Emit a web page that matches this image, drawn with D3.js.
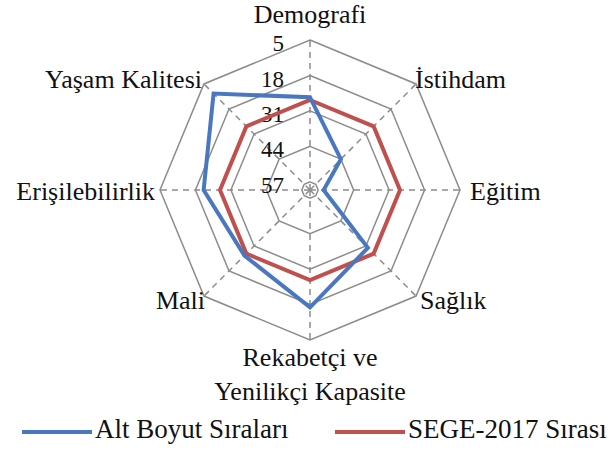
<!DOCTYPE html>
<html>
<head>
<meta charset="utf-8">
<script src="https://cdn.jsdelivr.net/npm/d3@7"></script>
<style>
  body { margin: 0; background: #ffffff; }
  svg text { font-family: "Liberation Serif", "Times New Roman", serif; fill: #111111; }
</style>
</head>
<body>
<div id="chart"></div>
<script>
// Axis names, clockwise from the top
const categories = ["Demografi", "İstihdam", "Eğitim", "Sağlık",
    "Rekabetçi ve\nYenilikçi Kapasite", "Mali", "Erişilebilirlik", "Yaşam Kalitesi"];
const altBoyut = [26, 44, 55, 30, 17, 26, 21, 10];   // Alt Boyut Sıraları
const sege2017 = [27, 27, 27, 27, 27, 27, 27, 27];   // SEGE-2017 Sırası
const tickValues = [5, 18, 31, 44, 57];
const seriesNames = ["Alt Boyut Sıraları", "SEGE-2017 Sırası"];

const width = 610;
const height = 450;
const cx = 310, cy = 190, R = 150;

const svg = d3.select("#chart")
    .append("svg")
    .attr("width", width)
    .attr("height", height);

const g = svg.append("g").attr("transform", `translate(${cx},${cy})`);

// rank 5 sits on the outer ring, the centre is about 60
const r = d3.scaleLinear().domain([5, 60]).range([R, 0]);
const angle = d3.scalePoint().domain(d3.range(categories.length + 1)).range([0, 2 * Math.PI]);
const pt = (i, v) => {
    const a = angle(i) - Math.PI / 2;
    return [Math.cos(a) * r(v), Math.sin(a) * r(v)];
};

// rings
tickValues.forEach(t => {
    g.append("path")
        .attr("d", d3.line()(categories.map((c, i) => pt(i, t))) + "Z")
        .attr("fill", "none")
        .attr("stroke", "#8c8c8c")
        .attr("stroke-width", 1.5);
});

// spokes
categories.forEach((c, i) => {
    const p = pt(i, 5);
    g.append("line")
        .attr("x1", 0).attr("y1", 0)
        .attr("x2", p[0]).attr("y2", p[1])
        .attr("stroke", "#8c8c8c")
        .attr("stroke-width", 1.5)
        .attr("stroke-dasharray", "6,5");
});

// tick labels
tickValues.forEach(t => {
    g.append("text")
        .attr("x", -26)
        .attr("y", -r(t) + 3)
        .attr("dy", "0.35em")
        .attr("text-anchor", "end")
        .style("font-size", "23px")
        .text(t);
});

// series
const series = [
    { name: seriesNames[1], values: sege2017, color: "#c0504d" },
    { name: seriesNames[0], values: altBoyut, color: "#4a78c0" }
];
series.forEach(s => {
    g.append("path")
        .attr("d", d3.line()(s.values.map((v, i) => pt(i, v))) + "Z")
        .attr("fill", "none")
        .attr("stroke", s.color)
        .attr("stroke-width", 4)
        .attr("stroke-linejoin", "miter");
});

// category labels
const labelPos = [
    { x: 0, y: -173, anchor: "middle" },
    { x: 105, y: -108, anchor: "start" },
    { x: 160, y: 4, anchor: "start" },
    { x: 110, y: 113, anchor: "start" },
    { x: 0, y: 170, anchor: "middle" },
    { x: -105, y: 113, anchor: "end" },
    { x: -155, y: 4, anchor: "end" },
    { x: -108, y: -108, anchor: "end" }
];
categories.forEach((c, i) => {
    const t = g.append("text")
        .attr("x", labelPos[i].x)
        .attr("y", labelPos[i].y)
        .attr("text-anchor", labelPos[i].anchor)
        .attr("dominant-baseline", "middle")
        .style("font-size", "26px");
    c.split("\n").forEach((line, k) => {
        t.append("tspan")
            .attr("x", labelPos[i].x)
            .attr("dy", k === 0 ? 0 : 34)
            .text(line);
    });
});

// legend
const legend = [
    { name: seriesNames[0], color: "#4a78c0", x: 22 },
    { name: seriesNames[1], color: "#c0504d", x: 335 }
];
legend.forEach(l => {
    svg.append("line")
        .attr("x1", l.x).attr("x2", l.x + 70)
        .attr("y1", 432).attr("y2", 432)
        .attr("stroke", l.color)
        .attr("stroke-width", 4);
    svg.append("text")
        .attr("x", l.x + 73)
        .attr("y", 432)
        .attr("dominant-baseline", "middle")
        .style("font-size", "27px")
        .text(l.name);
});
</script>
</body>
</html>
